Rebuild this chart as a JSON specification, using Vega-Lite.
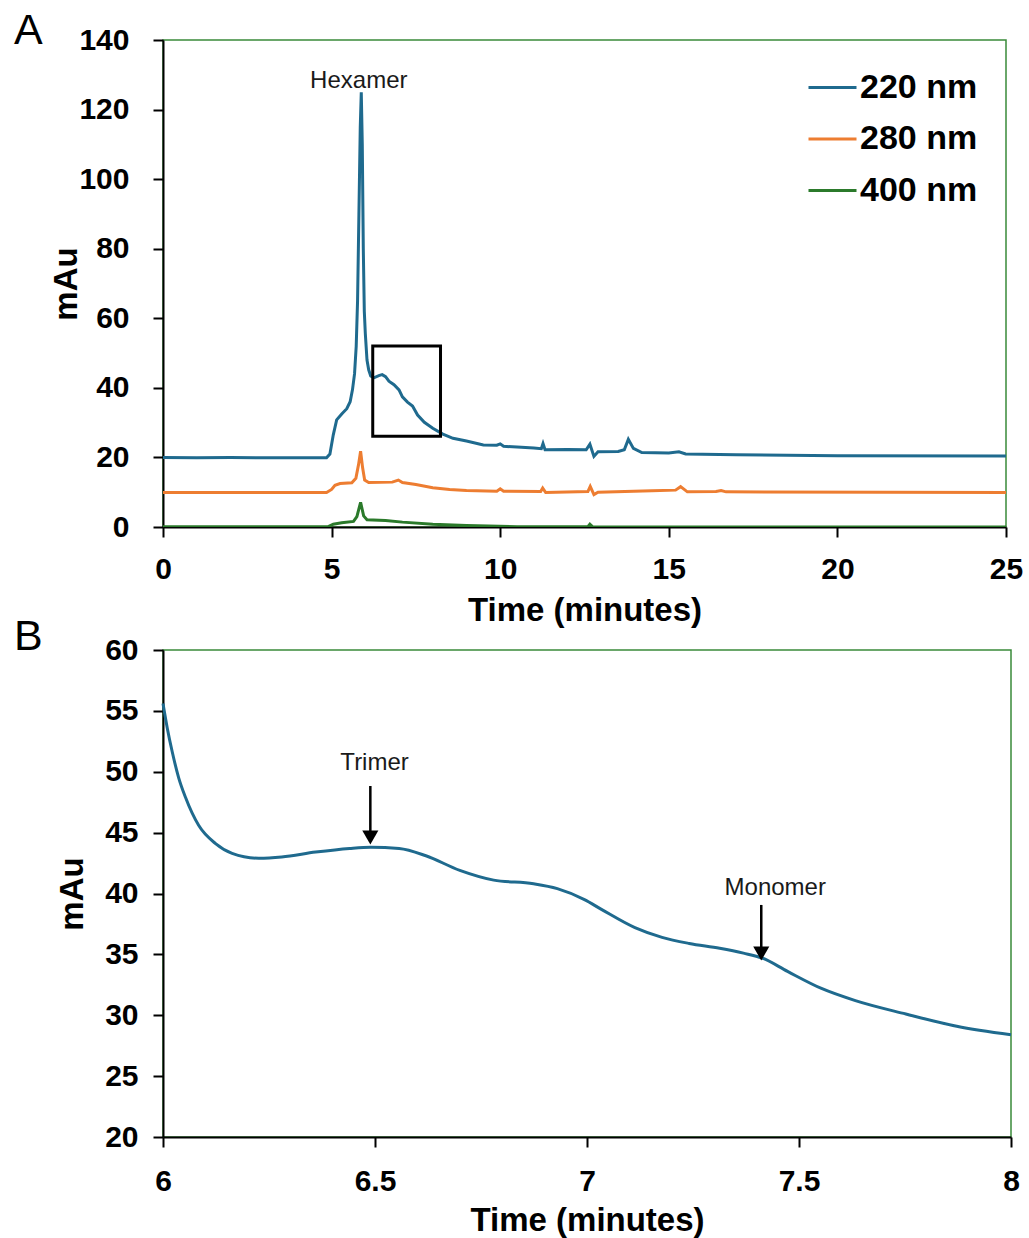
{
  "$schema": "https://vega.github.io/schema/vega-lite/v6.json",
  "padding": {"left": 13, "top": 9, "right": 0, "bottom": 0},
  "bounds": "flush",
  "spacing": 123,
  "background": "white",
  "resolve": {"scale": {"color": "independent"}, "legend": {"color": "independent"}},
  "config": {
    "font": "Liberation Sans",
    "view": {"stroke": "#3A8A3A", "strokeWidth": 1.5},
    "axis": {"grid": false, "labelFlush": false, "domainColor": "#000000", "domainWidth": 2, "tickColor": "#000000", "tickWidth": 2, "tickSize": 10, "labelFont": "Liberation Sans", "labelFontSize": 30, "labelFontWeight": "bold", "labelColor": "#000000", "titleFont": "Liberation Sans", "titleFontSize": 33, "titleFontWeight": "bold", "titleColor": "#000000"},
    "title": {"font": "Liberation Sans", "fontSize": 43, "fontWeight": "normal", "color": "#000000", "anchor": "start", "frame": "group", "offset": 0}
  },
  "datasets": {
    "a": [
      {"t": 0, "v": 20.0, "s": "220 nm"}, {"t": 1, "v": 19.9, "s": "220 nm"}, {"t": 2, "v": 20.0, "s": "220 nm"}, {"t": 3, "v": 19.9, "s": "220 nm"}, {"t": 4, "v": 19.9, "s": "220 nm"}, {"t": 4.85, "v": 19.9, "s": "220 nm"},
      {"t": 4.95, "v": 21.0, "s": "220 nm"}, {"t": 5.05, "v": 26.5, "s": "220 nm"}, {"t": 5.15, "v": 30.8, "s": "220 nm"}, {"t": 5.3, "v": 32.5, "s": "220 nm"}, {"t": 5.45, "v": 34.0, "s": "220 nm"}, {"t": 5.55, "v": 36.0, "s": "220 nm"}, {"t": 5.62, "v": 39.5, "s": "220 nm"}, {"t": 5.68, "v": 44, "s": "220 nm"}, {"t": 5.73, "v": 52, "s": "220 nm"}, {"t": 5.77, "v": 65, "s": "220 nm"}, {"t": 5.81, "v": 90, "s": "220 nm"}, {"t": 5.85, "v": 115, "s": "220 nm"}, {"t": 5.88, "v": 125, "s": "220 nm"}, {"t": 5.91, "v": 110, "s": "220 nm"}, {"t": 5.94, "v": 80, "s": "220 nm"}, {"t": 5.97, "v": 62, "s": "220 nm"},
      {"t": 6.0, "v": 55.6, "s": "220 nm"}, {"t": 6.05, "v": 48, "s": "220 nm"}, {"t": 6.1, "v": 45.2, "s": "220 nm"}, {"t": 6.16, "v": 43.4, "s": "220 nm"}, {"t": 6.25, "v": 42.9, "s": "220 nm"}, {"t": 6.4, "v": 43.5, "s": "220 nm"}, {"t": 6.5, "v": 43.8, "s": "220 nm"}, {"t": 6.6, "v": 43.2, "s": "220 nm"}, {"t": 6.7, "v": 41.9, "s": "220 nm"}, {"t": 6.85, "v": 40.9, "s": "220 nm"}, {"t": 7.0, "v": 39.4, "s": "220 nm"}, {"t": 7.1, "v": 37.4, "s": "220 nm"}, {"t": 7.25, "v": 35.9, "s": "220 nm"}, {"t": 7.4, "v": 34.8, "s": "220 nm"}, {"t": 7.55, "v": 32.2, "s": "220 nm"}, {"t": 7.75, "v": 30.1, "s": "220 nm"}, {"t": 8.0, "v": 28.4, "s": "220 nm"},
      {"t": 8.3, "v": 26.7, "s": "220 nm"}, {"t": 8.6, "v": 25.5, "s": "220 nm"}, {"t": 9.0, "v": 24.7, "s": "220 nm"}, {"t": 9.5, "v": 23.6, "s": "220 nm"}, {"t": 9.9, "v": 23.5, "s": "220 nm"}, {"t": 10.0, "v": 23.9, "s": "220 nm"}, {"t": 10.1, "v": 23.2, "s": "220 nm"}, {"t": 10.5, "v": 23.0, "s": "220 nm"}, {"t": 11.0, "v": 22.7, "s": "220 nm"}, {"t": 11.22, "v": 22.5, "s": "220 nm"}, {"t": 11.27, "v": 24.0, "s": "220 nm"}, {"t": 11.33, "v": 22.2, "s": "220 nm"}, {"t": 12.0, "v": 22.3, "s": "220 nm"}, {"t": 12.55, "v": 22.2, "s": "220 nm"}, {"t": 12.66, "v": 23.8, "s": "220 nm"}, {"t": 12.78, "v": 20.3, "s": "220 nm"}, {"t": 12.9, "v": 21.6, "s": "220 nm"}, {"t": 13.5, "v": 21.7, "s": "220 nm"}, {"t": 13.68, "v": 22.2, "s": "220 nm"}, {"t": 13.8, "v": 25.2, "s": "220 nm"}, {"t": 13.95, "v": 22.6, "s": "220 nm"}, {"t": 14.2, "v": 21.4, "s": "220 nm"}, {"t": 15.0, "v": 21.3, "s": "220 nm"}, {"t": 15.3, "v": 21.6, "s": "220 nm"}, {"t": 15.5, "v": 21.0, "s": "220 nm"}, {"t": 17, "v": 20.8, "s": "220 nm"}, {"t": 20, "v": 20.5, "s": "220 nm"}, {"t": 25, "v": 20.4, "s": "220 nm"},
      {"t": 0, "v": 9.9, "s": "280 nm"}, {"t": 4.85, "v": 9.9, "s": "280 nm"}, {"t": 5.0, "v": 10.8, "s": "280 nm"}, {"t": 5.1, "v": 12.0, "s": "280 nm"}, {"t": 5.25, "v": 12.5, "s": "280 nm"}, {"t": 5.6, "v": 12.7, "s": "280 nm"}, {"t": 5.72, "v": 14.0, "s": "280 nm"}, {"t": 5.8, "v": 18, "s": "280 nm"}, {"t": 5.86, "v": 21.8, "s": "280 nm"}, {"t": 5.92, "v": 17, "s": "280 nm"}, {"t": 5.98, "v": 13.5, "s": "280 nm"}, {"t": 6.1, "v": 12.8, "s": "280 nm"}, {"t": 6.8, "v": 12.9, "s": "280 nm"}, {"t": 6.98, "v": 13.5, "s": "280 nm"}, {"t": 7.1, "v": 12.8, "s": "280 nm"}, {"t": 7.5, "v": 12.2, "s": "280 nm"}, {"t": 8.0, "v": 11.3, "s": "280 nm"}, {"t": 8.5, "v": 10.8, "s": "280 nm"}, {"t": 9.0, "v": 10.5, "s": "280 nm"}, {"t": 9.9, "v": 10.3, "s": "280 nm"}, {"t": 10.0, "v": 11.0, "s": "280 nm"}, {"t": 10.1, "v": 10.3, "s": "280 nm"}, {"t": 11.2, "v": 10.2, "s": "280 nm"}, {"t": 11.26, "v": 11.2, "s": "280 nm"}, {"t": 11.35, "v": 9.9, "s": "280 nm"}, {"t": 12.6, "v": 10.2, "s": "280 nm"}, {"t": 12.67, "v": 11.7, "s": "280 nm"}, {"t": 12.78, "v": 9.3, "s": "280 nm"}, {"t": 12.9, "v": 10.0, "s": "280 nm"}, {"t": 14.5, "v": 10.4, "s": "280 nm"}, {"t": 15.2, "v": 10.6, "s": "280 nm"}, {"t": 15.35, "v": 11.6, "s": "280 nm"}, {"t": 15.55, "v": 10.1, "s": "280 nm"}, {"t": 16.4, "v": 10.2, "s": "280 nm"}, {"t": 16.55, "v": 10.5, "s": "280 nm"}, {"t": 16.7, "v": 10.1, "s": "280 nm"}, {"t": 25, "v": 9.9, "s": "280 nm"},
      {"t": 0, "v": 0.1, "s": "400 nm"}, {"t": 4.9, "v": 0.1, "s": "400 nm"}, {"t": 5.05, "v": 0.8, "s": "400 nm"}, {"t": 5.3, "v": 1.2, "s": "400 nm"}, {"t": 5.65, "v": 1.6, "s": "400 nm"}, {"t": 5.75, "v": 3.0, "s": "400 nm"}, {"t": 5.86, "v": 7.1, "s": "400 nm"}, {"t": 5.95, "v": 3.2, "s": "400 nm"}, {"t": 6.05, "v": 2.1, "s": "400 nm"}, {"t": 6.6, "v": 1.9, "s": "400 nm"}, {"t": 7.1, "v": 1.4, "s": "400 nm"}, {"t": 8.0, "v": 0.8, "s": "400 nm"}, {"t": 9.0, "v": 0.4, "s": "400 nm"}, {"t": 10.5, "v": 0.1, "s": "400 nm"}, {"t": 12.6, "v": 0.1, "s": "400 nm"}, {"t": 12.66, "v": 0.8, "s": "400 nm"}, {"t": 12.75, "v": 0.0, "s": "400 nm"}, {"t": 25, "v": 0.0, "s": "400 nm"}
    ],
    "b": [
      {"t": 6.0, "v": 55.6}, {"t": 6.01, "v": 53.6}, {"t": 6.022, "v": 51.6}, {"t": 6.037, "v": 49.5}, {"t": 6.053, "v": 47.9}, {"t": 6.084, "v": 45.6}, {"t": 6.124, "v": 44.1}, {"t": 6.163, "v": 43.3}, {"t": 6.226, "v": 42.9}, {"t": 6.28, "v": 43.0}, {"t": 6.36, "v": 43.4}, {"t": 6.44, "v": 43.7}, {"t": 6.49, "v": 43.8}, {"t": 6.557, "v": 43.7}, {"t": 6.62, "v": 43.1}, {"t": 6.7, "v": 41.9}, {"t": 6.78, "v": 41.1}, {"t": 6.874, "v": 40.8}, {"t": 6.93, "v": 40.4}, {"t": 6.994, "v": 39.5}, {"t": 7.034, "v": 38.7}, {"t": 7.113, "v": 37.2}, {"t": 7.177, "v": 36.4}, {"t": 7.241, "v": 35.9}, {"t": 7.313, "v": 35.5}, {"t": 7.369, "v": 35.1}, {"t": 7.413, "v": 34.7}, {"t": 7.473, "v": 33.6}, {"t": 7.553, "v": 32.2}, {"t": 7.633, "v": 31.2}, {"t": 7.752, "v": 30.1}, {"t": 7.872, "v": 29.1}, {"t": 8.0, "v": 28.4}
    ],
    "boxA": [{"t1": 6.22, "t2": 8.23, "v1": 26.1, "v2": 52.0}],
    "labA": [{"t": 5.806, "v": 128.2, "label": "Hexamer"}],
    "labB": [{"t": 6.499, "v": 50.68, "label": "Trimer"}, {"t": 7.444, "v": 40.45, "label": "Monomer"}],
    "arrB": [{"t": 6.489, "v1": 48.83, "v2": 44.6}, {"t": 7.411, "v1": 39.06, "v2": 35.07}]
  },
  "vconcat": [
    {
      "width": 843,
      "height": 487,
      "title": {"text": "A", "dx": -149, "dy": 32},
      "layer": [
        {
          "data": {"name": "a"},
          "mark": {"type": "line", "strokeWidth": 3, "clip": true},
          "encoding": {
            "x": {"field": "t", "type": "quantitative", "scale": {"domain": [0, 25], "nice": false}, "axis": {"values": [0, 5, 10, 15, 20, 25], "title": "Time (minutes)", "labelPadding": 17, "titlePadding": 10}},
            "y": {"field": "v", "type": "quantitative", "scale": {"domain": [0, 140], "nice": false}, "axis": {"values": [0, 20, 40, 60, 80, 100, 120, 140], "title": "mAu", "labelPadding": 24, "titlePadding": -5}},
            "color": {"field": "s", "type": "nominal", "scale": {"domain": ["220 nm", "280 nm", "400 nm"], "range": ["#1F6A8E", "#ED7D31", "#2B7A2B"]},
              "legend": {"orient": "none", "legendX": 644, "legendY": 22, "title": null, "symbolType": "stroke", "symbolSize": 2304, "symbolStrokeWidth": 3, "labelFontSize": 34, "labelFontWeight": "bold", "labelFont": "Liberation Sans", "labelColor": "#000000", "labelOffset": 2, "rowPadding": 8.5, "padding": 0}}
          }
        },
        {
          "data": {"name": "labA"},
          "mark": {"type": "text", "fontSize": 24, "font": "Liberation Sans", "color": "#1a1a1a", "baseline": "middle", "align": "center"},
          "encoding": {"x": {"field": "t", "type": "quantitative"}, "y": {"field": "v", "type": "quantitative"}, "text": {"field": "label"}}
        },
        {
          "data": {"name": "boxA"},
          "mark": {"type": "rect", "fill": null, "fillOpacity": 0, "stroke": "#000000", "strokeWidth": 3},
          "encoding": {"x": {"field": "t1", "type": "quantitative"}, "x2": {"field": "t2"}, "y": {"field": "v1", "type": "quantitative"}, "y2": {"field": "v2"}}
        }
      ]
    },
    {
      "width": 848,
      "height": 487,
      "title": {"text": "B", "dx": -149, "dy": 28},
      "layer": [
        {
          "data": {"name": "b"},
          "mark": {"type": "line", "strokeWidth": 3, "color": "#1F6A8E", "interpolate": "monotone"},
          "encoding": {
            "x": {"field": "t", "type": "quantitative", "scale": {"domain": [6, 8], "nice": false, "zero": false}, "axis": {"values": [6, 6.5, 7, 7.5, 8], "format": "~f", "title": "Time (minutes)", "labelPadding": 19, "titlePadding": 8}},
            "y": {"field": "v", "type": "quantitative", "scale": {"domain": [20, 60], "nice": false, "zero": false}, "axis": {"values": [20, 25, 30, 35, 40, 45, 50, 55, 60], "title": "mAu", "labelPadding": 15, "titlePadding": 15}}
          }
        },
        {
          "data": {"name": "labB"},
          "mark": {"type": "text", "fontSize": 24, "font": "Liberation Sans", "color": "#1a1a1a", "baseline": "middle", "align": "center"},
          "encoding": {"x": {"field": "t", "type": "quantitative"}, "y": {"field": "v", "type": "quantitative"}, "text": {"field": "label"}}
        },
        {
          "data": {"name": "arrB"},
          "mark": {"type": "rule", "strokeWidth": 2.5, "color": "#000000"},
          "encoding": {"x": {"field": "t", "type": "quantitative"}, "y": {"field": "v1", "type": "quantitative"}, "y2": {"field": "v2"}}
        },
        {
          "data": {"name": "arrB"},
          "mark": {"type": "point", "shape": "triangle-down", "size": 260, "filled": true, "color": "#000000", "opacity": 1},
          "encoding": {"x": {"field": "t", "type": "quantitative"}, "y": {"field": "v2", "type": "quantitative"}}
        }
      ]
    }
  ]
}
